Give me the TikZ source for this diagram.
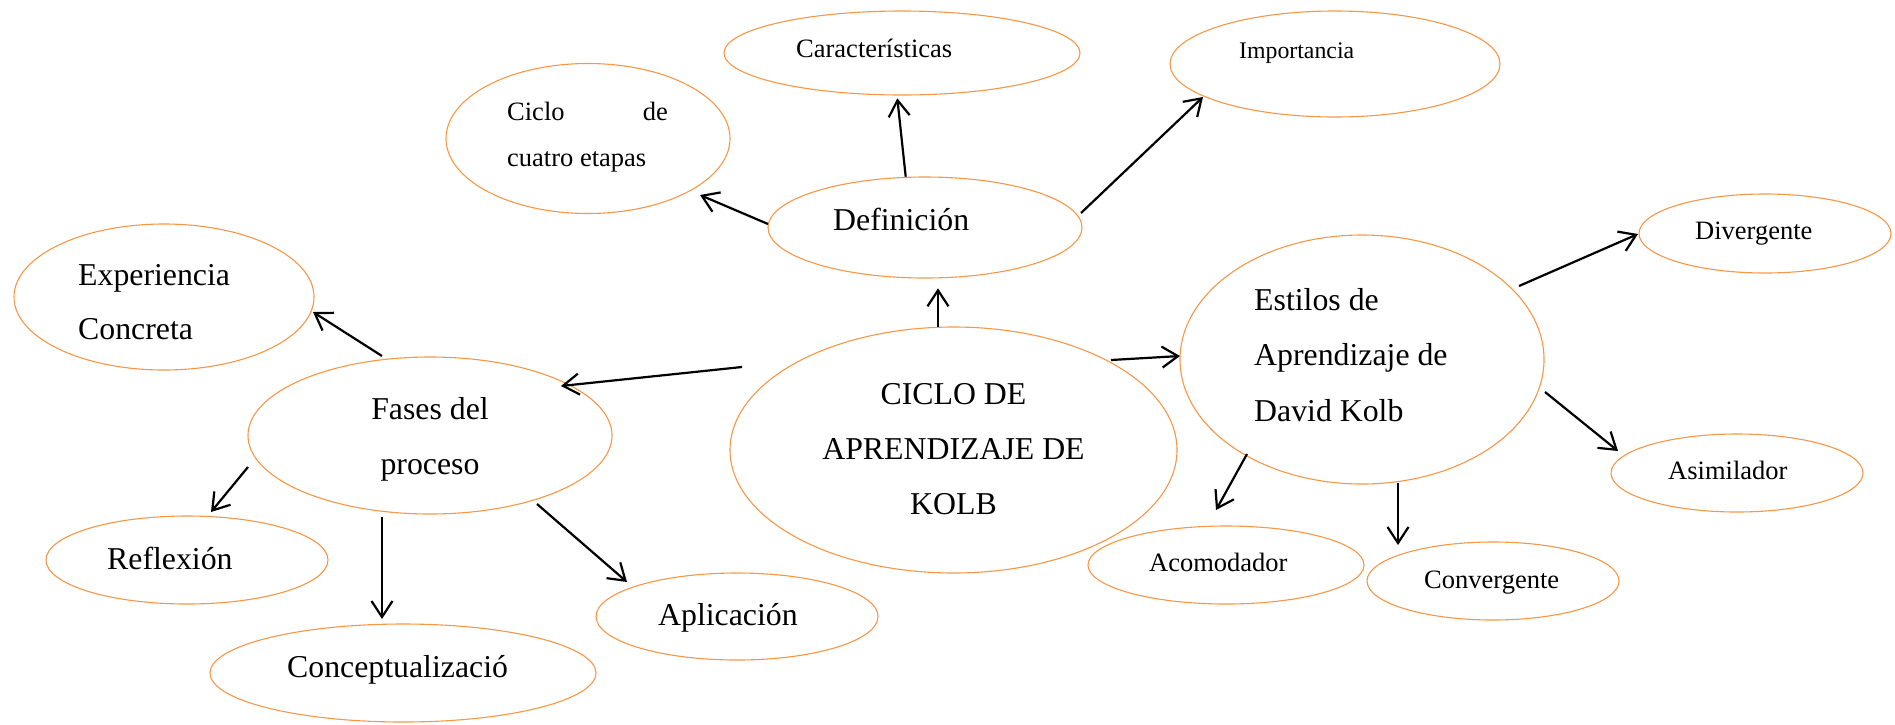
\documentclass[tikz,border=0pt]{standalone}
\usepackage{fontspec}
\setmainfont{Liberation Serif}
\usetikzlibrary{arrows.meta,calc,shapes.geometric}
\definecolor{ell}{RGB}{247,150,70}
\tikzset{
  bub/.style={ellipse, draw=ell, line width=1.1pt, inner sep=0pt},
  big/.style={font=\fontsize{31.8}{38}\selectfont, inner sep=0pt},
  small/.style={font=\fontsize{26.5}{32}\selectfont, inner sep=0pt},
  tiny/.style={font=\fontsize{23.8}{28}\selectfont, inner sep=0pt},
  arr/.style={line width=2.2pt, -{Straight Barb[length=16pt,width=21pt]}},
}
\begin{document}
\begin{tikzpicture}[x=1pt,y=-1pt]
\useasboundingbox (0,0) rectangle (1895,724);
% ellipses
\node[bub, minimum width=356pt, minimum height=84pt]  (cara)   at (902,53) {};
\node[bub, minimum width=330pt, minimum height=106pt] (imp)    at (1335,64) {};
\node[bub, minimum width=284pt, minimum height=150pt] (ciclo4) at (588,138.5) {};
\node[bub, minimum width=314pt, minimum height=101pt] (def)    at (925,227.5) {};
\node[bub, minimum width=300pt, minimum height=146pt] (exp)    at (164,297) {};
\node[bub, minimum width=364pt, minimum height=157pt] (fases)  at (430,435.5) {};
\node[bub, minimum width=447pt, minimum height=246pt] (main)   at (953.5,450) {};
\node[bub, minimum width=364pt, minimum height=249pt] (est)    at (1362,359.5) {};
\node[bub, minimum width=252pt, minimum height=79pt]  (div)    at (1765,233.5) {};
\node[bub, minimum width=252pt, minimum height=78pt]  (asim)   at (1737,473) {};
\node[bub, minimum width=276pt, minimum height=78pt]  (acom)   at (1226,565) {};
\node[bub, minimum width=252pt, minimum height=78pt]  (conv)   at (1493,581) {};
\node[bub, minimum width=282pt, minimum height=88pt]  (refl)   at (187,560) {};
\node[bub, minimum width=386pt, minimum height=98pt]  (conc)   at (403,673) {};
\node[bub, minimum width=282pt, minimum height=87pt]  (apl)    at (737,616.5) {};
% texts
\node[small, anchor=base west] (cara-t) at (796,57) {Características};
\node[tiny, anchor=base west] (imp-t) at (1239,58) {Importancia};
\node[small, anchor=base west] (ciclo4-a) at (507,120) {Ciclo};
\node[small, anchor=base east] (ciclo4-b) at (668,120) {de};
\node[small, anchor=base west] (ciclo4-c) at (507,166) {cuatro etapas};
\node[big, anchor=base west] (def-t) at (833,230) {Definición};
\node[big, anchor=base west] (exp-a) at (78,285) {Experiencia};
\node[big, anchor=base west] (exp-b) at (78,339) {Concreta};
\node[big, anchor=base] (fases-a) at (430,419) {Fases del};
\node[big, anchor=base] (fases-b) at (430,474) {proceso};
\node[big, anchor=base] (main-a) at (953.5,404) {CICLO DE};
\node[big, anchor=base] (main-b) at (953.5,459) {APRENDIZAJE DE};
\node[big, anchor=base] (main-c) at (953.5,514) {KOLB};
\node[big, anchor=base west] (est-a) at (1254,310) {Estilos de};
\node[big, anchor=base west] (est-b) at (1254,365) {Aprendizaje de};
\node[big, anchor=base west] (est-c) at (1254,421) {David Kolb};
\node[small, anchor=base west] (div-t) at (1695,239) {Divergente};
\node[small, anchor=base west] (asim-t) at (1668,479) {Asimilador};
\node[small, anchor=base west] (acom-t) at (1149,571) {Acomodador};
\node[small, anchor=base west] (conv-t) at (1424,588) {Convergente};
\node[big, anchor=base west] (refl-t) at (107,569) {Reflexión};
\node[big, anchor=base west] (conc-t) at (287,677) {Conceptualizació};
\node[big, anchor=base west] (apl-t) at (658,625) {Aplicación};
% arrows
\draw[arr] ($(def)+(-19.3,-50.8)$) -- ($(cara)+(-4.7,45.3)$);
\draw[arr] ($(def)+(-157,-3.5)$) -- ($(ciclo4)+(112,56.5)$);
\draw[arr] ($(def)+(156,-14.5)$) -- ($(imp)+(-132,33)$);
\draw[arr] ($(main)+(-15.5,-123.3)$) -- ($(def)+(13,60.8)$);
\draw[arr] ($(main)+(-211.5,-83)$) -- ($(fases)+(131,-49.5)$);
\draw[arr] ($(main)+(157.5,-90)$) -- ($(est)+(-182,-3.5)$);
\draw[arr] ($(fases)+(-48,-79.5)$) -- ($(exp)+(149,15)$);
\draw[arr] ($(fases)+(-182,31.5)$) -- ($(refl)+(24,-48)$);
\draw[arr] ($(fases)+(-48,81.5)$) -- ($(conc)+(-21,-54)$);
\draw[arr] ($(fases)+(107,68.5)$) -- ($(apl)+(-110,-34.5)$);
\draw[arr] ($(est)+(157,-73.5)$) -- ($(div)+(-127,0.5)$);
\draw[arr] ($(est)+(183,32.5)$) -- ($(asim)+(-119,-22)$);
\draw[arr] ($(est)+(-115,94.5)$) -- ($(acom)+(-10,-55)$);
\draw[arr] ($(est)+(36,123.5)$) -- ($(conv)+(-95,-36)$);
\end{tikzpicture}
\end{document}
